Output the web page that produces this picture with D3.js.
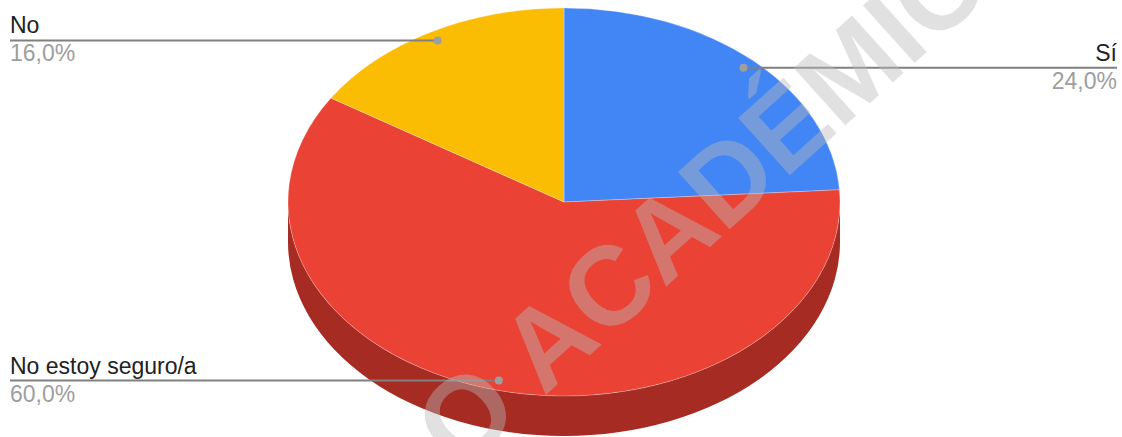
<!DOCTYPE html>
<html>
<head>
<meta charset="utf-8">
<script src="https://cdn.jsdelivr.net/npm/d3@7"></script>
<style>
  html, body { margin: 0; padding: 0; background: #fff; }
  svg { display: block; }
</style>
</head>
<body>
<svg id="pie3d" width="1122" height="437"></svg>
<script>
// survey answers (share of responses)
var categories = ["Sí", "No estoy seguro/a", "No"];
var values = [24.0, 60.0, 16.0];
var colors = ["#4285f4", "#ea4335", "#fbbc04"];
var sideColors = ["#2a5bb0", "#a52b23", "#b38600"];

function Pie3D() {
  var svg = d3.select("#pie3d"),
      width = +svg.attr("width"),
      height = +svg.attr("height");

  var cx = 564, cy = 202,
      rx = 276, ry = 194,
      depth = 40,
      k = ry / rx;

  var data = categories.map(function(c, i) { return { name: c, value: values[i], color: colors[i], side: sideColors[i] }; });

  var pie = d3.pie().value(function(d) { return d.value; }).sort(null);
  var arcs = pie(data);

  var arc = d3.arc().innerRadius(0).outerRadius(rx);

  // everything in circle coords, squashed vertically
  var g = svg.append("g")
    .attr("transform", "translate(" + cx + "," + cy + ") scale(1," + k + ")");

  // side wall, only the front half (pi/2 .. 3pi/2) shows
  arcs.forEach(function(d) {
    var a = Math.max(d.startAngle, Math.PI / 2),
        b = Math.min(d.endAngle, 3 * Math.PI / 2);
    if (b <= a) return;
    var dd = depth / k;
    var p = d3.path();
    p.arc(0, 0, rx, a - Math.PI / 2, b - Math.PI / 2);
    p.arc(0, dd, rx, b - Math.PI / 2, a - Math.PI / 2, true);
    p.closePath();
    g.append("path")
      .attr("d", p.toString())
      .attr("fill", d.data.side);
  });

  g.selectAll(".slice")
    .data(arcs)
    .enter().append("path")
    .attr("class", "slice")
    .attr("d", arc)
    .attr("fill", function(d) { return d.data.color; })
    .attr("stroke", "#ffffff")
    .attr("stroke-opacity", 0.35)
    .attr("stroke-width", 0.8)
    .attr("vector-effect", "non-scaling-stroke");

  // leader lines + labels
  var fmt = function(v) { return v.toFixed(1).replace(".", ",") + "%"; };

  arcs.forEach(function(d) {
    var m = (d.startAngle + d.endAngle) / 2;
    var px = cx + 0.95 * rx * Math.sin(m),
        py = cy - 0.95 * ry * Math.cos(m);
    var right = px > cx;
    var tx = right ? width - 5 : 10;

    svg.append("line")
      .attr("x1", tx).attr("x2", px)
      .attr("y1", py).attr("y2", py)
      .attr("stroke", "#808080")
      .attr("stroke-width", 2);

    svg.append("circle")
      .attr("cx", px).attr("cy", py)
      .attr("r", 4)
      .attr("fill", "#9e9e9e");

    svg.append("text")
      .attr("x", tx)
      .attr("y", py - 7)
      .attr("text-anchor", right ? "end" : "start")
      .style("font-family", "Liberation Sans, Arial, sans-serif")
      .style("font-size", "23px")
      .attr("fill", "#222222")
      .text(d.data.name);

    svg.append("text")
      .attr("x", tx)
      .attr("y", py + 21)
      .attr("text-anchor", right ? "end" : "start")
      .style("font-family", "Liberation Sans, Arial, sans-serif")
      .style("font-size", "23px")
      .attr("fill", "#9e9e9e")
      .text(fmt(d.data.value));
  });

  // watermark
  svg.append("text")
    .attr("transform", "translate(459,473) rotate(-42)")
    .style("font-family", "Liberation Sans, Arial, sans-serif")
    .style("font-size", "112px")
    .style("font-weight", "bold")
    .attr("fill", "#b9b9b9")
    .attr("fill-opacity", 0.43)
    .text("O ACADÉMICO");
}

Pie3D();
</script>
</body>
</html>
